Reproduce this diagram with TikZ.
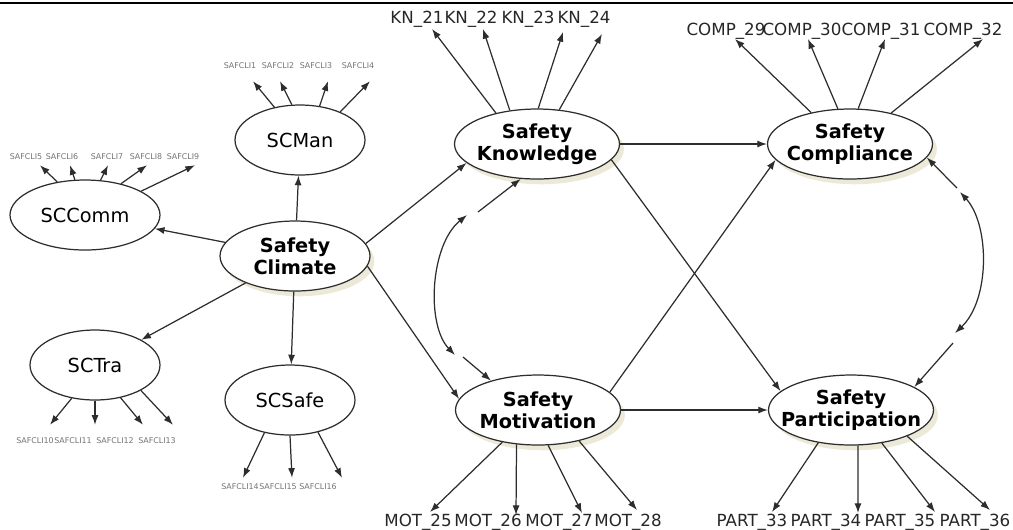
\documentclass[tikz,border=0pt]{standalone}
\usepackage{fontspec}
\setmainfont{DejaVu Sans}
\usetikzlibrary{shapes.geometric,arrows.meta,shadows}
\definecolor{shadowbeige}{RGB}{236,233,216}
\definecolor{linegray}{RGB}{45,45,45}
\tikzset{
  latent/.style={ellipse, draw=linegray, fill=white, line width=0.7pt, inner sep=0pt, minimum height=1.4cm},
  construct/.style={latent, minimum width=3.3cm, drop shadow={shadow xshift=2.5pt, shadow yshift=-3pt, fill=shadowbeige, draw=none, opacity=1}},
  dimension/.style={latent, minimum width=2.6cm, font=\fontsize{11}{13}\selectfont},
  conlab/.style={font=\fontsize{11}{12.5}\selectfont\bfseries, align=center, inner sep=0pt},
  itemlab/.style={font=\fontsize{9.5}{11}\selectfont, text=black!85, inner sep=0pt, anchor=base},
  tinylab/.style={font=\fontsize{4.5}{5}\selectfont, text=black!55, inner sep=0.5pt},
  reg/.style={draw=linegray, line width=0.7pt, ->},
  cov/.style={draw=linegray, line width=0.7pt, <->},
  >={Latex[length=5.5pt,width=4pt]}
}
\begin{document}
\begin{tikzpicture}[x=0.02cm, y=-0.02cm]
\useasboundingbox (0,0) rectangle (1013,529);
\draw[line width=1.2pt] (0,3) -- (1013,3);

\node[dimension] (scman) at (300,140) {SCMan};
\node[dimension, minimum width=3cm] (sccomm) at (85,215) {SCComm};
\node[dimension] (sctra) at (95,365) {SCTra};
\node[dimension] (scsafe) at (290,400) {SCSafe};
\node[construct, minimum width=3cm, label={[conlab]center:Safety\\Climate}] (clim) at (295,256) {};
\node[construct, label={[conlab]center:Safety\\Knowledge}] (know) at (537,144) {};
\node[construct, label={[conlab]center:Safety\\Motivation}] (motiv) at (538,410) {};
\node[construct, label={[conlab]center:Safety\\Compliance}] (comp) at (850,144) {};
\node[construct, label={[conlab]center:Safety\\Participation}] (part) at (851,410) {};

\foreach \i/\x/\a/\dx in {1/240/128/13, 2/278/103/2, 3/316/60/12, 4/358/35/12} {
  \node[tinylab] (sc\i) at (\x,66) {SAFCLI\i};
  \draw[reg] (scman.\a) -- ([shift={(\dx,11)}]sc\i.south);
}
\foreach \i/\x/\a/\dx in {5/26/130/14, 6/62/106/8, 7/107/66/1, 8/146/41/1, 9/183/23/12} {
  \node[tinylab] (sc\i) at (\x,157) {SAFCLI\i};
  \draw[reg] (sccomm.\a) -- ([shift={(\dx,4)}]sc\i.south);
}
\foreach \i/\x/\a/\dx in {10/35/235/15, 11/73/270/22, 12/115/308/28, 13/157/331/16} {
  \node[tinylab] (sc\i) at (\x,441) {SAFCLI\i};
  \draw[reg] (sctra.\a) -- ([shift={(\dx,-12)}]sc\i.north);
}
\foreach \i/\x/\a/\dx in {14/240/232/3, 15/278/270/14, 16/318/311/24} {
  \node[tinylab] (sc\i) at (\x,487) {SAFCLI\i};
  \draw[reg] (scsafe.\a) -- ([shift={(\dx,-5)}]sc\i.north);
}

\foreach \i/\x/\a/\dx/\dy in {21/417/143/15/6, 22/471/129/12/6, 23/528/88/35/9, 24/584/57/18/11} {
  \node[itemlab] (kn\i) at (\x,23) {KN\_\i};
  \draw[reg] (know.\a) -- ([shift={(\dx,\dy)}]kn\i.base);
}
\foreach \i/\x/\a/\dx/\dy in {29/726/141/9/4, 30/802/109/6/4, 31/881/77/4/4, 32/963/37/20/4} {
  \node[itemlab] (comp\i) at (\x,35) {COMP\_\i};
  \draw[reg] (comp.\a) -- ([shift={(\dx,\dy)}]comp\i.base);
}
\foreach \i/\x/\a/\dx/\dy in {25/418/222/12/-14, 26/488/238/28/-11, 27/559/286/23/-13, 28/628/323/9/-16} {
  \node[itemlab] (mot\i) at (\x,526) {MOT\_\i};
  \draw[reg] (motiv.\a) -- ([shift={(\dx,\dy)}]mot\i.base);
}
\foreach \i/\x/\a/\dx/\dy in {33/752/225/20/-14, 34/826/281/32/-13, 35/900/313/35/-14, 36/975/335/15/-16} {
  \node[itemlab] (part\i) at (\x,526) {PART\_\i};
  \draw[reg] (part.\a) -- ([shift={(\dx,\dy)}]part\i.base);
}

\draw[reg] (clim) -- (scman);
\draw[reg] (clim) -- (sccomm);
\draw[reg] (clim) -- (sctra);
\draw[reg] (clim) -- (scsafe);
\draw[reg] (clim.10) -- (know.195);
\draw[reg] (clim.352) -- (motiv.172);
\draw[reg] (know) -- (comp);
\draw[reg] (know.348) -- (part.165);
\draw[reg] (motiv.14) -- (comp.192);
\draw[reg] (motiv) -- (part);

\coordinate (eK) at (478,212);
\coordinate (eM) at (463,357);
\coordinate (eC) at (957,188);
\coordinate (eP) at (953,343);
\coordinate (cK) at (467,215);
\coordinate (cM) at (455,355);
\coordinate (cC) at (960,192);
\coordinate (cP) at (955,333);
\draw[reg] (eK) -- (know.245);
\draw[reg] (eM) -- (motiv.148);
\draw[reg] (eC) -- (comp.350);
\draw[reg] (eP) -- (part.20);
\draw[cov] (cK) .. controls (430,245) and (426,325) .. (cM);
\draw[cov] (cC) .. controls (990,225) and (990,300) .. (cP);
\end{tikzpicture}
\end{document}
